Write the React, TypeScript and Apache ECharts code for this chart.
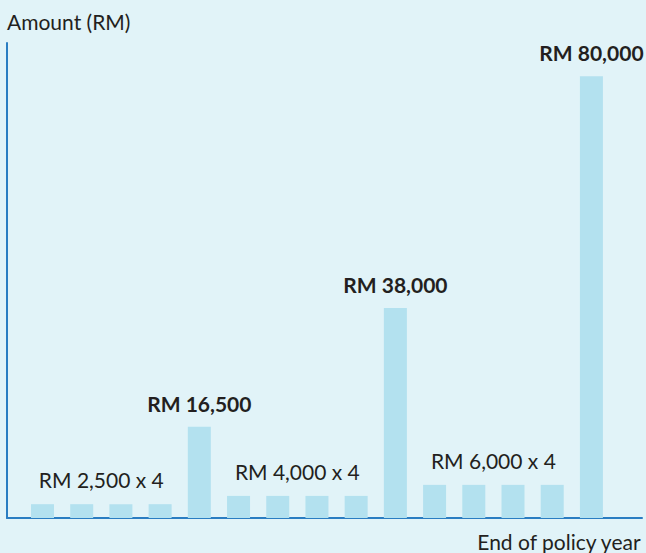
import React, { useEffect, useRef } from "react";
import * as echarts from "echarts";

// End-of-policy-year payouts (RM), one bar per year shown
const years = [1, 2, 3, 4, 5, 6, 7, 8, 9, 10, 11, 12, 13, 14, 15];
const payouts = [2500, 2500, 2500, 2500, 16500, 4000, 4000, 4000, 4000, 38000, 6000, 6000, 6000, 6000, 80000];
// bars whose amount is shown in bold above them (indices)
const highlighted = [4, 9, 14];
// repeated-payout groups: label centred above each group of 4
const groupCenters = [1.5, 6.5, 11.5];
const groupValues = [2500, 4000, 6000];
const groupLabels = ["RM 2,500 x 4", "RM 4,000 x 4", "RM 6,000 x 4"];

const yTitle = "Amount (RM)";
const xTitle = "End of policy year";

const FONT = "Lato, 'Open Sans', sans-serif";
const TEXT = "#231f20";

const fmt = (v: number) => "RM " + v.toLocaleString("en-US");

export default function App() {
  const ref = useRef<HTMLDivElement>(null);
  useEffect(() => {
    document.body.style.margin = "0";
    const chart = echarts.init(ref.current!, null, { renderer: "svg" });
    chart.setOption({
      animation: false,
      backgroundColor: "#e1f3f8",
      textStyle: { fontFamily: FONT },
      grid: { left: 7, right: 4, top: 43, bottom: 35 },
      xAxis: {
        type: "value",
        min: -0.905,
        max: 15.29,
        axisLine: { show: true, onZero: false, lineStyle: { color: "#2a7dc2", width: 2 } },
        axisTick: { show: false },
        axisLabel: { show: false },
        splitLine: { show: false },
      },
      yAxis: {
        type: "value",
        min: 0,
        max: 86000,
        axisLine: { show: true, onZero: false, lineStyle: { color: "#2a7dc2", width: 2 } },
        axisTick: { show: false },
        axisLabel: { show: false },
        splitLine: { show: false },
      },
      graphic: [
        {
          type: "text",
          left: 7,
          top: 11,
          style: { text: yTitle, fontSize: 21, fontFamily: FONT, fill: TEXT },
        },
        {
          type: "text",
          right: 4,
          top: 531,
          style: { text: xTitle, fontSize: 21, fontFamily: FONT, fill: TEXT },
        },
      ],
      series: [
        {
          type: "bar",
          barWidth: 23,
          itemStyle: { color: "#b3e1ef" },
          data: years.map((y, i) => ({
            value: [i, payouts[i]],
            label: {
              show: highlighted.includes(i),
              position: "top",
              distance: 13,
              formatter: () => fmt(payouts[i]),
              fontSize: 21,
              fontWeight: "bold",
              fontFamily: FONT,
              color: TEXT,
            },
          })),
        },
        {
          type: "scatter",
          symbolSize: 0,
          silent: true,
          itemStyle: { opacity: 1 },
          data: groupCenters.map((c, i) => ({
            value: [c, groupValues[i]],
            label: {
              show: true,
              position: "top",
              distance: 14,
              formatter: groupLabels[i],
              fontSize: 21,
              fontFamily: FONT,
              color: TEXT,
              opacity: 1,
            },
          })),
        },
      ],
    });
    return () => chart.dispose();
  }, []);
  return <div ref={ref} style={{ width: 646, height: 553 }} />;
}
